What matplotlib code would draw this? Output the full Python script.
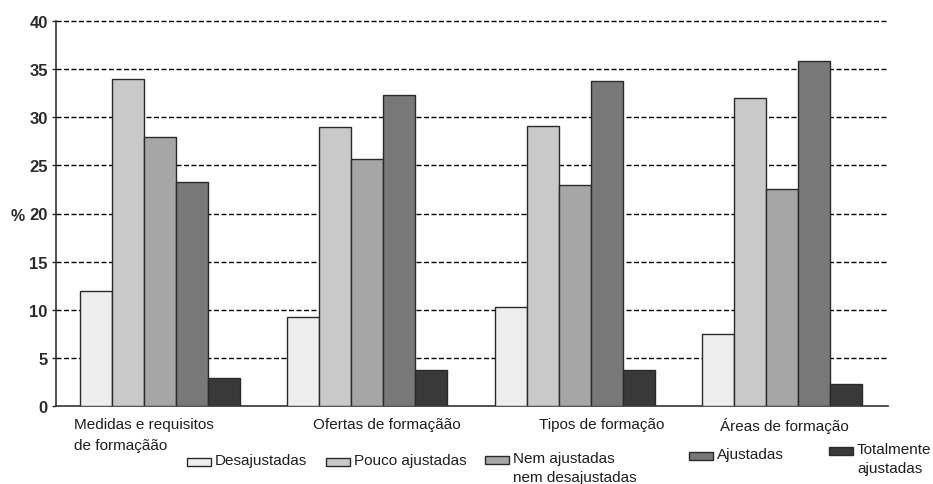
""" Ajustamento da formação - barras agrupadas """

import matplotlib
matplotlib.use('Agg')
import matplotlib.pyplot as plt
from matplotlib.patches import Rectangle

plt.rcParams['font.family'] = ['Liberation Sans', 'DejaVu Sans']

# -- Data

categories = ['Medidas e requisitos\nde formaçãão', 'Ofertas de formaçãão',
              'Tipos de formação', 'Áreas de formação']
series = ['Desajustadas', 'Pouco ajustadas', 'Nem ajustadas\nnem desajustadas',
          'Ajustadas', 'Totalmente\najustadas']

desajustadas   = [12.0, 9.2, 10.3, 7.5]
pouco          = [34.0, 29.0, 29.1, 32.0]
nem            = [27.9, 25.7, 23.0, 22.5]
ajustadas      = [23.3, 32.3, 33.8, 35.8]
totalmente     = [2.9, 3.7, 3.7, 2.3]
values = [desajustadas, pouco, nem, ajustadas, totalmente]

yticks = [0, 5, 10, 15, 20, 25, 30, 35, 40]

# -- Style

colors = ['#eeeeee', '#c9c9c9', '#a6a6a6', '#787878', '#393939']
edge = '#2a2a2a'
txt = '#1e1e1e'
W, H = 933, 485
width = 0.154

# offsets of category labels (left edge, relative to group centre)
label_dx = [-0.414, -0.263, -0.173, -0.301]
# legend handle positions in pixels (x_left, y_centre)
leg_pos = [(187, 463), (326, 463), (485, 461), (689, 457), (829, 452)]

fig = plt.figure(figsize=(W / 100, H / 100), dpi=100)
ax = fig.add_axes([56 / W, 1 - 407 / H, (888 - 56) / W, (407 - 22) / H])

for j, vals in enumerate(values):
    xs = [i + (j - 2) * width for i in range(len(categories))]
    ax.bar(xs, vals, width=width, color=colors[j], edgecolor=edge,
           linewidth=1.0, zorder=3)

ax.set_xlim(-0.5, 3.51)
ax.set_ylim(0, 40)
ax.set_yticks(yticks)
ax.set_yticklabels([str(v) for v in yticks], fontsize=12, fontweight='bold',
                   color='#2a2a2a')
ax.set_xticks([])
ax.tick_params(axis='y', length=3, width=1, color=edge, pad=3)

for v in yticks[1:]:
    ax.axhline(v, color='black', linewidth=1.0, linestyle=(0, (3.6, 1.8)),
               zorder=1, clip_on=False)

for s in ['top', 'right']:
    ax.spines[s].set_visible(False)
for s in ['left', 'bottom']:
    ax.spines[s].set_color('#333333')
    ax.spines[s].set_linewidth(1.2)

fig.text(11 / W, 1 - 217 / H, '%', fontsize=11.5, fontweight='bold',
         color='#2a2a2a', va='center')

for i, lab in enumerate(categories):
    ax.text(i + label_dx[i], -1.1, lab, ha='left', va='top', fontsize=11,
            color=txt, linespacing=1.65)

# -- Legend, drawn by hand

for j, lab in enumerate(series):
    x0, yc = leg_pos[j]
    fig.add_artist(Rectangle((x0 / W, 1 - (yc + 4) / H), 24 / W, 8 / H,
                             facecolor=colors[j], edgecolor=edge,
                             linewidth=1.0, transform=fig.transFigure))
    fig.text((x0 + 28) / W, 1 - (yc - 8.5) / H, lab, ha='left', va='top',
             fontsize=11, color=txt, linespacing=1.45)

plt.savefig('out.png', dpi=100)
